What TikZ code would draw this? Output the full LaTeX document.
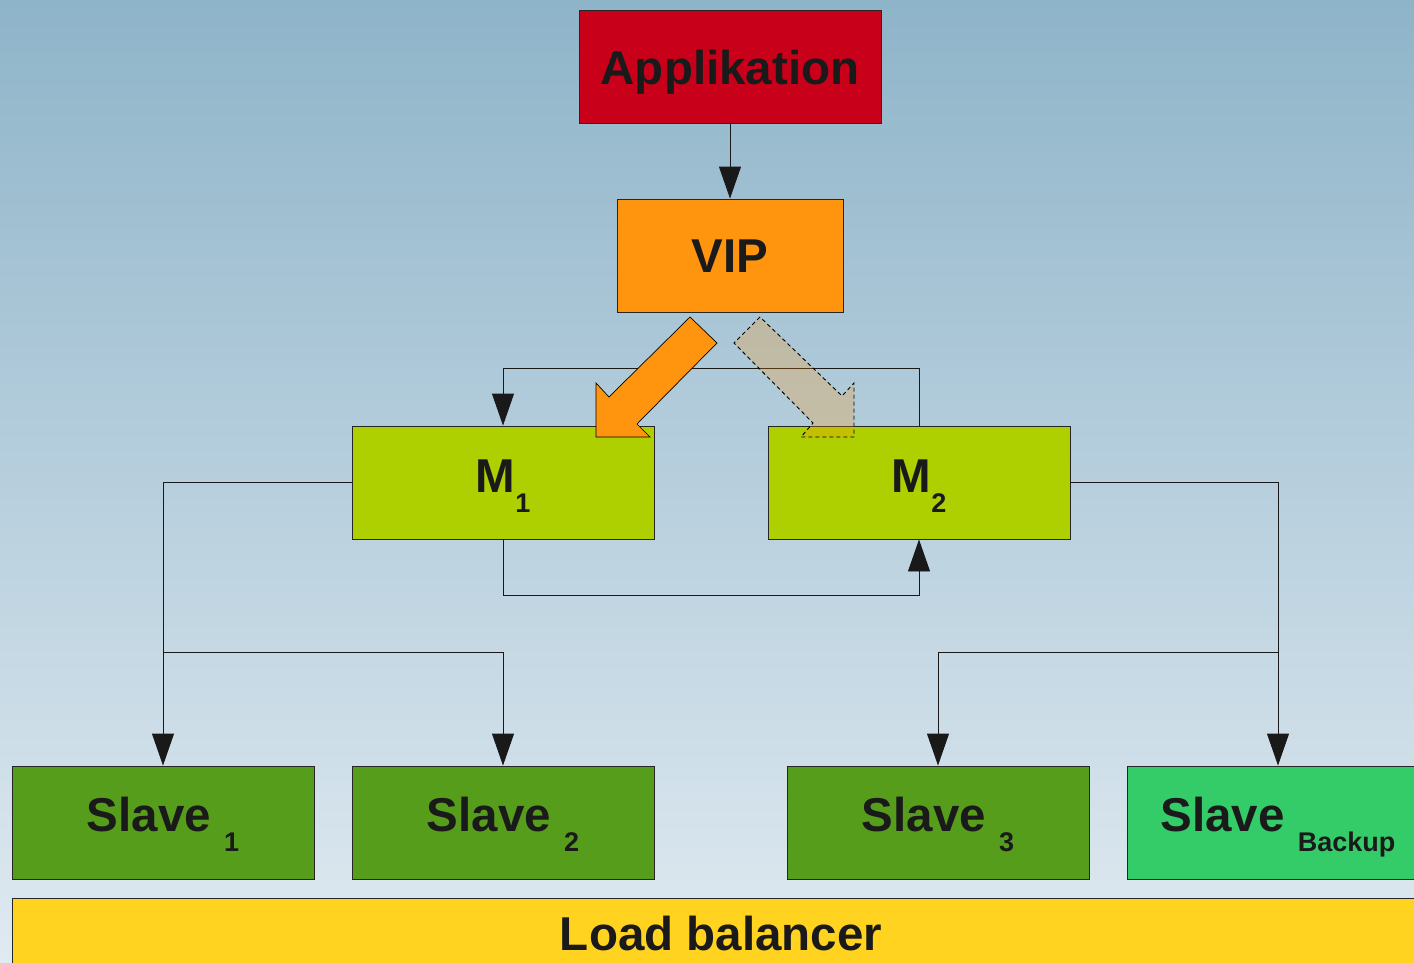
\documentclass[tikz,border=0pt]{standalone}
\usepackage{fontspec}
\setmainfont{Liberation Sans}
\usetikzlibrary{arrows.meta}
\definecolor{bgtop}{RGB}{142,180,201}
\definecolor{bgbot}{RGB}{224,234,241}
\definecolor{appred}{RGB}{201,0,26}
\definecolor{viporange}{RGB}{255,149,14}
\definecolor{mgreen}{RGB}{174,207,0}
\definecolor{sgreen}{RGB}{87,157,28}
\definecolor{bgreen}{RGB}{52,204,104}
\definecolor{lbyellow}{RGB}{255,211,32}
\definecolor{txt}{RGB}{26,26,26}
\newcommand{\lowsub}[1]{\raisebox{-20pt}{\fontsize{27}{29}\selectfont #1}}
\begin{document}
\begin{tikzpicture}[x=1pt,y=-1pt,
  box/.style={draw=black!85, line width=0.9pt, inner sep=0pt, minimum width=302pt,
    minimum height=113pt, font=\fontsize{47.5}{50}\selectfont\bfseries, text=txt, text depth=0pt},
  conn/.style={draw=black!90, line width=0.9pt, -{Triangle[length=32pt,width=22pt]}},
  blockarrow/.style={draw=black, line width=0.7pt, fill=viporange, line join=miter},
  ghostarrow/.style={draw=black, line width=0.9pt, dash pattern=on 4pt off 3pt,
    fill=viporange, fill opacity=0.25}]
\useasboundingbox (0,0) rectangle (1414,962);
\clip (0,0) rectangle (1414,962);
\shade[top color=bgtop, bottom color=bgbot] (0,0) rectangle (1414,962);

\node[box, fill=appred, text height=35pt] (app) at (730,66.5) {Applikation};
\node[box, fill=viporange, minimum width=226pt, text height=34pt] (vip) at (730,255.5) {VIP};
\node[box, fill=mgreen, text height=19pt] (m1) at (503,482.5) {M\lowsub{1}};
\node[box, fill=mgreen, text height=19pt] (m2) at (919,482.5) {M\lowsub{2}};
\node[box, fill=sgreen, text height=17pt] (s1) at (163,822.5) {Slave \lowsub{1}};
\node[box, fill=sgreen, text height=17pt] (s2) at (503,822.5) {Slave \lowsub{2}};
\node[box, fill=sgreen, text height=17pt] (s3) at (938,822.5) {Slave \lowsub{3}};
\node[box, fill=bgreen, text height=17pt] (sb) at (1278,822.5) {Slave \lowsub{Backup}};
\node[box, fill=lbyellow, minimum width=1418pt, text height=0pt, text depth=9pt] (lb) at (721,954.5) {Load balancer};

\draw[conn] (app.south) -- (vip.north);
\draw[conn] (m2.north) -- ++(0,-57) -| (m1.north);
\draw[conn] (m1.south) -- ++(0,56) -| (m2.south);
\draw[conn] (m1.west) -| (s1.north);
\coordinate (jl) at (s1.north |- 0,652);
\draw[conn] (jl) -| (s2.north);
\draw[conn] (m2.east) -| (sb.north);
\coordinate (jr) at (sb.north |- 0,652);
\draw[conn] (jr) -| (s3.north);

\draw[blockarrow] (690,317) -- (717,343) -- (637,424) -- (650,437) -- (596,437)
  -- (596,383) -- (609,397) -- cycle;
\draw[ghostarrow] (760,317) -- (734,343) -- (813,423) -- (801,437) -- (854,437)
  -- (854,383) -- (842,396) -- cycle;
\end{tikzpicture}
\end{document}
